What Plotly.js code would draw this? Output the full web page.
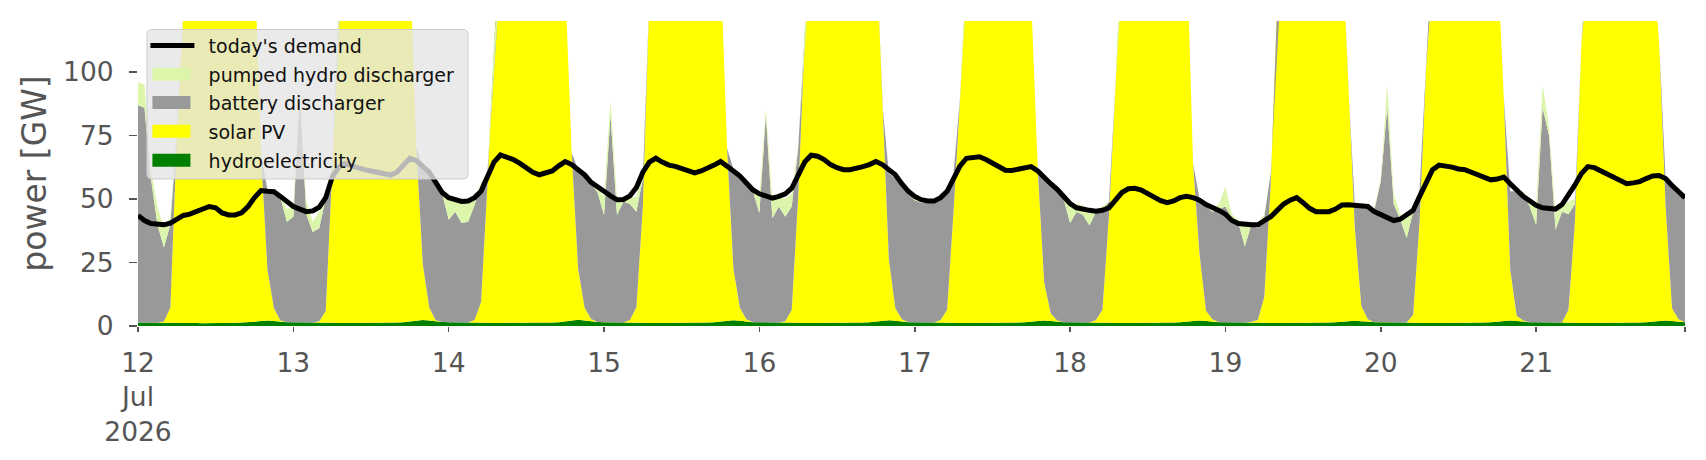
<!DOCTYPE html>
<html>
<head>
<meta charset="utf-8">
<script src="https://cdn.plot.ly/plotly-3.0.1.min.js"></script>
<style>
  html, body { margin: 0; padding: 0; background: #ffffff; }
  #chart { width: 1706px; height: 460px; }
</style>
</head>
<body>
<div id="chart"></div>
<script>
"use strict";

// hourly values in GW, one row per day (12 Jul .. 21 Jul 2026)
const firstHour = Date.UTC(2026, 6, 12, 0);

const dayTicks = [
  "2026-07-12", "2026-07-13", "2026-07-14", "2026-07-15", "2026-07-16",
  "2026-07-17", "2026-07-18", "2026-07-19", "2026-07-20", "2026-07-21",
  "2026-07-21 23:00",
];
const dayLabels = [
  "12<br>Jul<br>2026", "13", "14", "15", "16", "17", "18", "19", "20", "21", "",
];

const hydro = [
  1.4, 1.4, 1.4, 1.3, 1.3, 1.3, 1.3, 1.2, 1.2, 1.2, 1.1, 1.1, 1.2, 1.2, 1.2, 1.3, 1.4, 1.5, 1.7, 2.0, 2.2, 2.0, 1.7, 1.5,
  1.5, 1.5, 1.4, 1.4, 1.4, 1.4, 1.3, 1.2, 1.2, 1.2, 1.2, 1.2, 1.2, 1.2, 1.3, 1.3, 1.4, 1.5, 1.8, 2.1, 2.4, 2.2, 1.8, 1.6,
  1.5, 1.5, 1.4, 1.4, 1.4, 1.4, 1.3, 1.2, 1.2, 1.2, 1.2, 1.2, 1.2, 1.2, 1.3, 1.3, 1.4, 1.5, 1.8, 2.2, 2.5, 2.2, 1.8, 1.6,
  1.5, 1.5, 1.4, 1.4, 1.4, 1.4, 1.3, 1.2, 1.2, 1.2, 1.2, 1.2, 1.2, 1.2, 1.3, 1.3, 1.4, 1.5, 1.7, 2.0, 2.3, 2.1, 1.7, 1.5,
  1.5, 1.5, 1.4, 1.4, 1.4, 1.4, 1.3, 1.2, 1.2, 1.2, 1.2, 1.2, 1.2, 1.2, 1.3, 1.3, 1.4, 1.5, 1.8, 2.1, 2.3, 2.1, 1.7, 1.5,
  1.5, 1.5, 1.4, 1.4, 1.4, 1.4, 1.3, 1.2, 1.2, 1.2, 1.2, 1.2, 1.2, 1.2, 1.3, 1.3, 1.4, 1.5, 1.7, 2.0, 2.2, 2.0, 1.7, 1.5,
  1.5, 1.5, 1.4, 1.4, 1.4, 1.4, 1.3, 1.2, 1.2, 1.2, 1.2, 1.2, 1.2, 1.2, 1.3, 1.3, 1.4, 1.5, 1.7, 2.0, 2.2, 2.0, 1.7, 1.5,
  1.5, 1.5, 1.4, 1.4, 1.4, 1.4, 1.3, 1.2, 1.2, 1.2, 1.2, 1.2, 1.2, 1.2, 1.3, 1.3, 1.4, 1.5, 1.7, 1.9, 2.1, 1.9, 1.7, 1.5,
  1.5, 1.5, 1.4, 1.4, 1.4, 1.4, 1.3, 1.2, 1.2, 1.2, 1.2, 1.2, 1.2, 1.2, 1.3, 1.3, 1.4, 1.5, 1.7, 2.0, 2.2, 2.0, 1.7, 1.5,
  1.5, 1.5, 1.4, 1.4, 1.4, 1.4, 1.3, 1.2, 1.2, 1.2, 1.2, 1.2, 1.2, 1.2, 1.3, 1.3, 1.4, 1.5, 1.7, 2.0, 2.2, 2.0, 1.7, 1.5,
];

const solar = [
  0, 0, 0, 0, 0.5, 6, 73, 136, 170, 198, 218, 230, 233, 228, 213, 193, 172, 155, 143, 66, 20, 5, 0.5, 0,
  0, 0, 0, 0, 0.5, 4.5, 60, 124, 165, 195, 215, 228, 232, 228, 214, 195, 172, 152, 143, 68, 22, 5, 0.5, 0,
  0, 0, 0, 0, 1, 8, 55, 110, 160, 195, 215, 228, 232, 226, 212, 192, 170, 150, 133, 66, 20, 5, 1, 0,
  0, 0, 0, 0, 1, 6, 46, 128, 165, 195, 215, 228, 230, 226, 212, 192, 170, 152, 142, 68, 20, 5, 1, 0,
  0, 0, 0, 0, 0.5, 5, 50, 112, 165, 197, 218, 230, 234, 230, 215, 195, 173, 158, 150, 85, 24, 5, 1, 0,
  0, 0, 0, 0, 1, 5, 44, 88, 140, 180, 210, 225, 230, 226, 212, 192, 170, 148, 127, 60, 15, 3, 0.5, 0,
  0, 0, 0, 0, 1, 5, 42, 92, 150, 185, 210, 225, 230, 225, 210, 190, 175, 160, 150, 62, 26, 4, 1, 0,
  0, 0, 0, 0, 0.3, 1, 10, 55, 125, 170, 200, 220, 228, 225, 212, 192, 170, 155, 150, 92, 36, 6, 1, 0,
  0, 0, 0, 0, 0, 3, 40, 100, 150, 185, 210, 225, 230, 226, 212, 192, 170, 152, 145, 88, 20, 2, 0.5, 0,
  0, 0, 0, 0, 0, 5, 40, 110, 150, 185, 210, 225, 230, 225, 210, 190, 168, 150, 140, 110, 45, 5, 1, 0,
];

const battery = [
  85.5, 84.5, 56.6, 38.6, 29.1, 32.6, 2, 0, 0, 0, 0, 0, 0, 0, 0, 0, 0, 0, 0, 0, 31.3, 45.5, 48.3, 39.5,
  41.5, 89.5, 42.6, 35.6, 36.6, 44.1, 1, 0, 0, 0, 0, 0, 0, 0, 0, 0, 0, 0, 0, 0, 38.1, 53, 54.2, 50.4,
  40.3, 43.5, 39.1, 39.6, 45.2, 46.6, 4.7, 0, 0, 0, 0, 0, 0, 0, 0, 0, 0, 0, 0, 0, 39, 51.8, 53.2, 50.9,
  42.2, 81.5, 42.3, 47.6, 45.6, 37.6, 10.7, 0, 0, 0, 0, 0, 0, 0, 0, 0, 0, 0, 0, 0, 39.2, 51.9, 53.8, 51.5,
  42.9, 81.5, 41, 45.6, 41.1, 40.6, 18.7, 2, 0, 0, 0, 0, 0, 0, 0, 0, 0, 0, 0, 0, 33.7, 50.9, 52.3, 50.5,
  48, 47, 47.1, 47.1, 47.1, 46.1, 14.7, 0.8, 0, 0, 0, 0, 0, 0, 0, 0, 0, 0, 0, 0, 41.8, 51.5, 51.3, 48.5,
  39, 43.5, 42.3, 38.1, 42.6, 39.3, 5.7, 0.8, 0, 0, 0, 0, 0, 0, 0, 0, 0, 0, 0, 0, 21.8, 41, 42.3, 44.5,
  45.5, 40.9, 39.1, 29.9, 38.1, 36.1, 31.7, 3.8, 0, 0, 0, 0, 0, 0, 0, 0, 0, 0, 0, 0, 8.9, 38.6, 43.3, 44,
  55.5, 84.5, 46.6, 40.6, 33.2, 40.6, 12.7, 0, 0, 0, 0, 0, 0, 0, 0, 0, 0, 0, 0, 0, 30.8, 49, 50.3, 45.5,
  38.3, 84.5, 73.6, 36.6, 43.6, 37.6, 6.7, 0, 0, 0, 0, 0, 0, 0, 0, 0, 0, 0, 0, 0, 10.8, 49, 50.8, 49.5,
];

const pumpedHydro = [
  9, 9, 4, 7, 8, 3, 0, 0, 0, 0, 0, 0, 0, 0, 0, 0, 0, 0, 0, 0, 0.5, 0.5, 1, 5,
  4, 4, 5, 4, 6.5, 3, 0, 0, 0, 0, 0, 0, 0, 0, 0, 0, 0, 0, 0, 0, 0, 0, 0.5, 1,
  7.8, 4, 7.8, 8, 2, 0.5, 0, 0, 0, 0, 0, 0, 0, 0, 0, 0, 0, 0, 0, 0, 0, 0, 0.5, 1.5,
  7.3, 5.8, 6.3, 1.5, 2.5, 6, 2, 0, 0, 0, 0, 0, 0, 0, 0, 0, 0, 0, 0, 0, 0, 0, 0, 1,
  6.6, 3, 7.6, 4, 7, 5, 1, 0, 0, 0, 0, 0, 0, 0, 0, 0, 0, 0, 0, 0, 0, 0, 0, 0.5,
  1.5, 1.5, 0.5, 0.5, 0.5, 0, 0, 0, 0, 0, 0, 0, 0, 0, 0, 0, 0, 0, 0, 0, 0, 0, 0, 1,
  8, 3, 3.8, 4.5, 1, 1.3, 0, 0, 0, 0, 0, 0, 0, 0, 0, 0, 0, 0, 0, 0, 0, 1, 1.5, 2,
  7.8, 1.6, 1, 8.5, 0.7, 2, 1, 0, 0, 0, 0, 0, 0, 0, 0, 0, 0, 0, 0, 0, 0, 0, 0.5, 1,
  1, 9, 4, 2, 7.8, 0.5, 0, 0, 0, 0, 0, 0, 0, 0, 0, 0, 0, 0, 0, 0, 0, 0, 0.5, 2,
  7.2, 9, 3, 6, 3, 5, 2, 0, 0, 0, 0, 0, 0, 0, 0, 0, 0, 0, 0, 0, 0, 0, 0, 0,
];

const demand = [
  43.5, 41.5, 40.3, 39.8, 39.8, 40.5, 42, 43.5, 44, 45, 46, 47, 46.5, 44.5, 43.7, 43.7, 44.5, 47, 50.5, 53.3, 53, 52.8, 51, 49,
  47, 46, 45, 45.3, 46.8, 50.5, 58.5, 62.5, 64, 63, 62, 61.5, 61, 60.3, 59.8, 59.4, 60.5, 63, 66, 65, 62.5, 60.5, 56.5, 52.5,
  50.5, 49.5, 49, 49.2, 50.5, 53, 59, 64.5, 67.3, 66.5, 65.5, 64, 62.2, 60.5, 59.5, 60, 61, 63, 64.7, 63.5, 61.5, 59.5, 56.5, 54.5,
  53, 51.2, 49.7, 49.8, 51.2, 54.5, 60.5, 64.5, 66, 64.5, 63.3, 62.8, 62, 61, 60.2, 61, 62, 63.3, 64.7, 63, 61, 59, 56, 53.5,
  52, 51, 50.3, 51, 52, 54.2, 59, 64.5, 67.2, 66.8, 65.5, 63.5, 62.3, 61.5, 61.5, 62, 62.7, 63.5, 64.7, 63.5, 61.5, 59.5, 56, 53,
  51, 49.7, 49.2, 49.2, 50.5, 53, 58, 63, 66, 66.5, 66.6, 65.5, 64, 62.5, 61.3, 61.2, 61.7, 62.3, 62.7, 61, 58.3, 56, 53.8, 51,
  48.2, 46.5, 45.8, 45.5, 45.2, 45.5, 46.5, 49.5, 52.5, 54, 54.2, 53.5, 52, 50.5, 49.3, 48.5, 49.2, 50.5, 51, 50.5, 49.5, 47.8, 46.8, 45.5,
  44, 41.5, 40.3, 39.8, 39.8, 39.8, 41.5, 43, 45.5, 48, 49.5, 50.5, 48.5, 46.3, 45, 44.8, 45, 46, 47.6, 47.7, 47.4, 47.2, 47, 45,
  44, 42.5, 41.5, 42, 44, 45.5, 51, 56.5, 61.5, 63.3, 63, 62.5, 61.8, 61.5, 60.5, 59.5, 58.5, 57.5, 57.8, 58.6, 56, 53.5, 51, 49.3,
  47.5, 46.5, 46, 46, 47.8, 51.5, 55.5, 60, 62.7, 62.3, 61, 59.8, 58.5, 57.2, 56, 56.3, 56.8, 58, 59, 59.2, 58, 55.3, 53, 50.5,
];

// timestamps, one per hour
const times = demand.map((_, i) =>
  new Date(firstHour + i * 3600000).toISOString().slice(0, 16).replace("T", " "),
);

const font = "DejaVu Sans, Arial, sans-serif";
const axisGrey = "#555555";

function areaTrace(name, values, color, rank) {
  return {
    x: times,
    y: values,
    name: name,
    type: "scatter",
    mode: "lines",
    stackgroup: "supply",
    line: { width: 0 },
    fillcolor: color,
    legendrank: rank,
    hoverinfo: "skip",
  };
}

const data = [
  areaTrace("hydroelectricity", hydro, "#008000", 5),
  areaTrace("solar PV", solar, "#ffff00", 4),
  areaTrace("battery discharger", battery, "#999999", 3),
  areaTrace("pumped hydro discharger", pumpedHydro, "#dbf5ab", 2),
  {
    x: times,
    y: demand,
    name: "today's demand",
    type: "scatter",
    mode: "lines",
    line: { color: "#000000", width: 5 },
    legendrank: 1,
    hoverinfo: "skip",
  },
];

// legend frame (rounded, semi-transparent like the original)
const fx0 = 0.0058, fx1 = 0.2133, fy0 = 0.482, fy1 = 0.9722;
const rx = 0.0032, ry = 0.0163;
const framePath =
  `M ${fx0 + rx},${fy0} L ${fx1 - rx},${fy0} Q ${fx1},${fy0} ${fx1},${fy0 + ry} ` +
  `L ${fx1},${fy1 - ry} Q ${fx1},${fy1} ${fx1 - rx},${fy1} ` +
  `L ${fx0 + rx},${fy1} Q ${fx0},${fy1} ${fx0},${fy1 - ry} ` +
  `L ${fx0},${fy0 + ry} Q ${fx0},${fy0} ${fx0 + rx},${fy0} Z`;

const layout = {
  width: 1706,
  height: 460,
  margin: { l: 138, r: 21, t: 20.5, b: 133.5 },
  paper_bgcolor: "#ffffff",
  plot_bgcolor: "#ffffff",
  font: { family: font, color: axisGrey },
  showlegend: true,
  legend: {
    x: 0.0048,
    y: 0.975,
    xanchor: "left",
    yanchor: "top",
    bgcolor: "rgba(0,0,0,0)",
    borderwidth: 0,
    traceorder: "normal",
    itemwidth: 45,
    font: { family: font, size: 19, color: "#111111" },
  },
  shapes: [
    {
      type: "path",
      xref: "paper",
      yref: "paper",
      path: framePath,
      fillcolor: "rgba(229,229,229,0.8)",
      line: { color: "#cccccc", width: 1 },
      layer: "above",
    },
  ],
  xaxis: {
    type: "date",
    range: [times[0], times[times.length - 1]],
    tickmode: "array",
    tickvals: dayTicks,
    ticktext: dayLabels,
    ticks: "outside",
    ticklen: 5,
    tickwidth: 1.6,
    tickcolor: axisGrey,
    ticklabelstandoff: 8,
    tickfont: { family: font, size: 26.5, color: axisGrey },
    showgrid: false,
    zeroline: false,
    showline: false,
  },
  yaxis: {
    range: [0, 120],
    tickmode: "array",
    tickvals: [0, 25, 50, 75, 100],
    ticks: "outside",
    ticklen: 8,
    tickwidth: 1.6,
    tickcolor: axisGrey,
    ticklabelstandoff: 10,
    tickfont: { family: font, size: 26.5, color: axisGrey },
    showgrid: false,
    zeroline: false,
    showline: false,
    title: {
      text: "power [GW]",
      font: { family: font, size: 33, color: axisGrey },
      standoff: 6,
    },
  },
};

// matplotlib-like legend keys: wide patches, a long line, rows spaced out,
// text starting further right
const legendRowsY = [46, 74.7, 103, 131.7, 160.7];
const legendTextX = 208.6;

function restyleLegend(gd) {
  const box = gd.querySelector(".legend .scrollbox");
  if (box) box.removeAttribute("clip-path");
  const host = gd.getBoundingClientRect();
  gd.querySelectorAll(".legend .traces").forEach((item, i) => {
    const fill = item.querySelector(".legendfill path");
    const line = item.querySelector(".legendlines path");
    const text = item.querySelector("text.legendtext");
    if (fill && fill.getAttribute("d")) {
      fill.setAttribute("d", "M7,-6.5h38v13h-38z");
      if (line) line.style.display = "none";
    } else if (line) {
      line.setAttribute("d", "M5,0h44");
      line.style.strokeWidth = "5px";
    }
    if (!text) return;
    const r = text.getBoundingClientRect();
    const dy = legendRowsY[i] - (r.top + r.height / 2 - host.top);
    const dx = legendTextX - (r.left - host.left);
    const base = item.getAttribute("transform") || "";
    item.setAttribute("transform", `${base} translate(0,${dy.toFixed(2)})`);
    text.setAttribute("transform", `translate(${dx.toFixed(2)},0)`);
  });
}

Plotly.newPlot("chart", data, layout, { displayModeBar: false, staticPlot: true })
  .then(restyleLegend);
</script>
</body>
</html>
